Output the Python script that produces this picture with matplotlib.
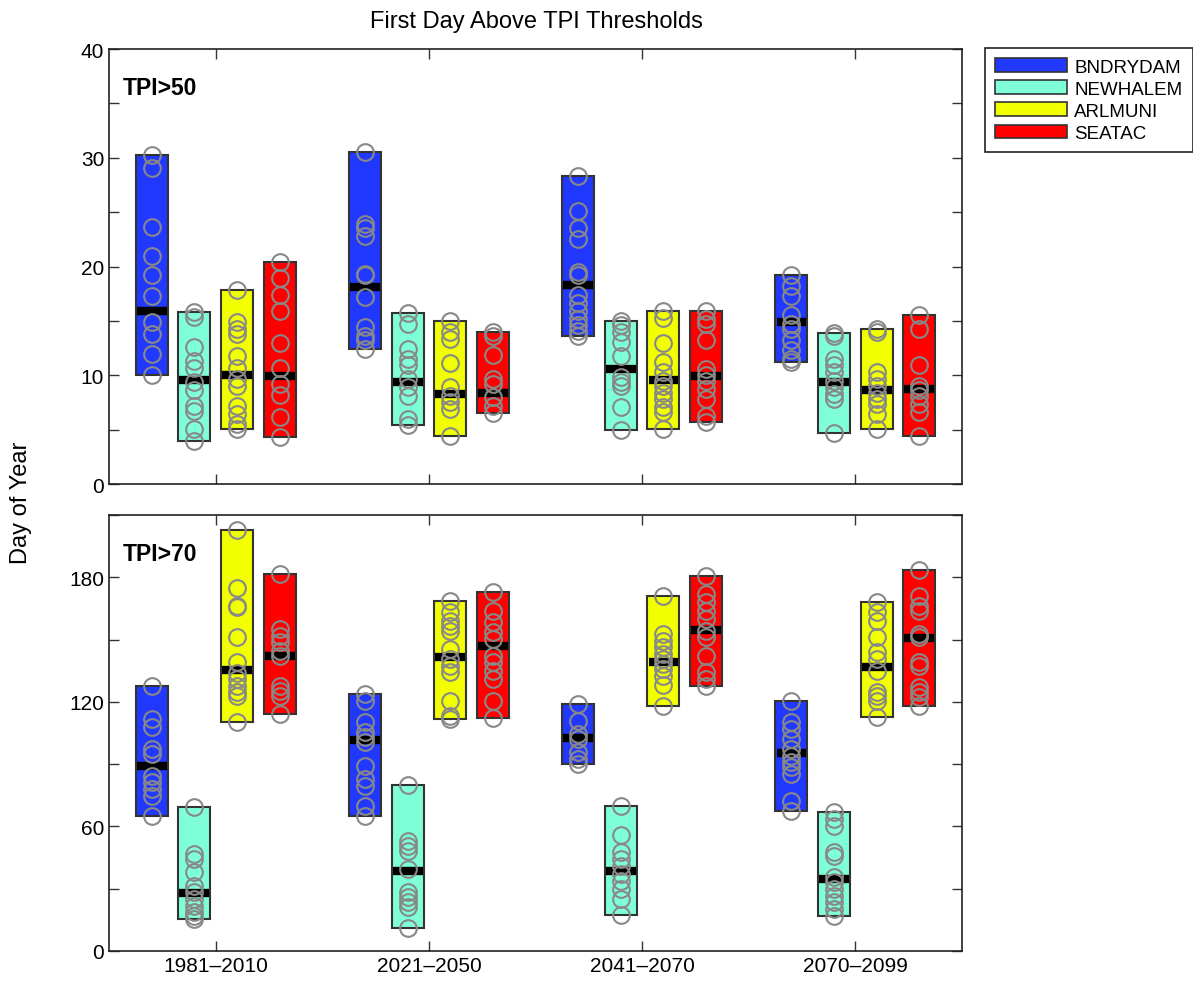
import matplotlib
matplotlib.use('Agg')
import matplotlib.pyplot as plt
from matplotlib.patches import Patch
import numpy as np

plt.rcParams['font.family'] = ['Liberation Sans', 'DejaVu Sans']

periods = ["1981\u20132010", "2021\u20132050", "2041\u20132070", "2070\u20132099"]
stations = ["BNDRYDAM", "NEWHALEM", "ARLMUNI", "SEATAC"]
colors = ["#2138FF", "#7FFFD8", "#F2FF00", "#FF0000"]

# TPI > 50: yearly first-day values, [period][station]
tpi50 = [
    [[30.3, 29.1, 23.6, 21.0, 19.2, 17.3, 14.9, 13.8, 12.0, 10.0],
     [15.8, 15.4, 12.6, 11.3, 10.7, 9.4, 8.6, 7.2, 6.7, 5.1, 4.0],
     [17.8, 14.9, 14.3, 13.8, 11.8, 10.7, 9.7, 9.0, 7.2, 6.4, 5.5, 5.1],
     [20.4, 18.9, 17.4, 15.9, 13.0, 10.7, 9.2, 8.2, 6.2, 4.3]],
    [[30.5, 23.9, 23.5, 22.8, 19.3, 19.2, 17.2, 14.4, 13.6, 13.2, 12.4],
     [15.7, 14.7, 12.4, 11.5, 10.9, 9.7, 8.9, 8.1, 6.0, 5.4],
     [15.0, 14.0, 13.3, 11.1, 8.9, 8.1, 7.5, 6.9, 4.4],
     [14.0, 13.6, 11.9, 9.7, 9.2, 8.0, 7.2, 6.5]],
    [[28.3, 25.1, 23.5, 22.5, 19.5, 19.2, 17.4, 16.6, 15.9, 15.2, 14.6, 14.1, 13.6],
     [15.0, 14.6, 14.0, 13.1, 11.8, 9.8, 9.4, 9.0, 7.1, 5.0],
     [15.9, 15.3, 13.0, 11.2, 10.3, 9.5, 9.0, 8.4, 7.8, 7.1, 6.6, 5.1],
     [15.9, 15.2, 14.7, 13.2, 10.6, 10.0, 9.5, 8.7, 7.8, 6.3, 5.7]],
    [[19.2, 18.2, 17.3, 15.5, 14.7, 14.3, 13.2, 12.3, 11.5, 11.2],
     [13.9, 13.6, 11.5, 10.9, 10.3, 9.5, 8.9, 8.3, 7.8, 4.7],
     [14.3, 14.0, 10.3, 9.7, 9.0, 8.4, 7.8, 7.4, 6.4, 5.1],
     [15.5, 14.3, 10.9, 9.0, 8.6, 8.1, 7.4, 6.6, 4.4]],
]
med50 = [[15.9, 9.6, 10.0, 9.9],
         [18.1, 9.4, 8.3, 8.4],
         [18.3, 10.6, 9.6, 9.9],
         [14.9, 9.4, 8.6, 8.7]]

# TPI > 70
tpi70 = [
    [[127.8, 111.8, 107.8, 97.3, 94.9, 84.5, 81.3, 78.0, 74.8, 65.2],
     [69.2, 46.7, 44.3, 37.9, 31.5, 28.3, 25.0, 21.8, 18.6, 16.8, 15.4],
     [202.9, 174.7, 166.3, 165.5, 151.1, 139.1, 133.9, 131.0, 127.8, 124.6, 123.0, 110.1],
     [181.6, 155.1, 151.9, 148.7, 144.6, 142.2, 127.8, 125.4, 123.0, 114.2]],
    [[123.8, 120.6, 110.1, 105.3, 102.9, 100.5, 89.3, 82.8, 79.6, 70.0, 65.2],
     [80.0, 53.1, 50.7, 48.3, 39.5, 28.3, 25.9, 23.5, 21.0, 10.9],
     [168.7, 163.1, 159.1, 156.7, 154.3, 145.5, 140.6, 137.4, 134.2, 120.6, 113.3, 111.7],
     [172.8, 163.9, 158.3, 153.5, 150.3, 142.2, 139.1, 135.0, 131.0, 120.6, 112.2]],
    [[119.0, 110.9, 104.5, 102.1, 95.7, 92.5, 90.1],
     [69.7, 55.9, 47.5, 44.3, 41.1, 37.1, 33.9, 29.9, 25.0, 17.3],
     [170.8, 152.7, 149.5, 146.3, 143.0, 140.6, 138.2, 135.8, 132.6, 128.1, 118.2],
     [180.5, 172.0, 168.0, 163.9, 159.9, 154.3, 151.1, 142.2, 134.2, 131.0, 127.5]],
    [[120.6, 110.1, 106.9, 102.1, 97.3, 94.1, 90.9, 88.5, 85.3, 72.4, 67.6],
     [66.8, 63.6, 60.4, 47.5, 45.9, 35.5, 33.1, 29.9, 26.6, 23.5, 20.2, 17.0],
     [168.0, 163.1, 159.1, 151.1, 143.9, 140.6, 135.0, 124.6, 123.0, 120.6, 112.6],
     [183.7, 171.1, 166.3, 163.9, 152.7, 151.1, 139.1, 137.4, 127.0, 124.6, 122.2, 117.9]],
]
med70 = [[89.3, 27.9, 135.5, 142.2],
         [101.6, 38.7, 141.4, 147.1],
         [102.4, 38.7, 139.0, 154.6],
         [95.4, 34.7, 136.6, 150.6]]

offsets = [-0.3, -0.1, 0.1, 0.3]
width = 0.15


def draw_panel(ax, data, meds, label, ymax, ystep):
    for p in range(len(periods)):
        for s in range(len(stations)):
            vals = np.array(data[p][s])
            xc = p + 1 + offsets[s]
            lo, hi = vals.min(), vals.max()
            ax.bar(xc, hi - lo, bottom=lo, width=width, color=colors[s],
                   edgecolor="#333333", linewidth=1.5, zorder=2)
            ax.plot([xc - width / 2 + 0.005, xc + width / 2 - 0.005],
                    [meds[p][s]] * 2, color="black", linewidth=6,
                    solid_capstyle="butt", zorder=3)
            ax.plot(np.full(len(vals), xc), vals, "o", mfc="none",
                    mec="#888888", mew=1.5, ms=12, zorder=4)
    ax.set_xlim(0.5, 4.5)
    ax.set_ylim(0, ymax)
    ticks = np.arange(0, ymax + 0.1, ystep / 2)
    ax.set_yticks(ticks)
    ax.set_yticklabels([str(int(v)) if i % 2 == 0 else ""
                        for i, v in enumerate(ticks)])
    ax.set_xticks([1, 2, 3, 4])
    ax.tick_params(direction="in", top=True, right=True, length=7,
                   width=1, labelsize=15, color="#333333")
    for sp in ax.spines.values():
        sp.set_linewidth(1.2)
        sp.set_color("#222222")
    ax.text(0.0164, 0.912, label, transform=ax.transAxes, fontsize=16.5,
            fontweight="bold", va="center")


fig = plt.figure(figsize=(11.93, 9.87), dpi=100)
ax1 = fig.add_axes([0.0914, 0.5086, 0.715, 0.4407])
ax2 = fig.add_axes([0.0914, 0.0355, 0.715, 0.4417])

draw_panel(ax1, tpi50, med50, "TPI>50", 40, 10)
ax1.set_xticklabels([])
draw_panel(ax2, tpi70, med70, "TPI>70", 210, 60)
ax2.set_yticks(np.arange(0, 211, 30))
ax2.set_yticklabels(["0", "", "60", "", "120", "", "180", ""])
ax2.set_xticklabels(periods)

fig.text(0.450, 0.978, "First Day Above TPI Thresholds", ha="center",
         va="center", fontsize=17)
fig.text(0.018, 0.491, "Day of Year", rotation=90, ha="center",
         va="center", fontsize=17)

handles = [Patch(facecolor=c, edgecolor="#333333", linewidth=1.2)
           for c in colors]
leg = fig.legend(handles, stations, loc="upper left",
                 bbox_to_anchor=(0.8257, 0.9504), fontsize=13.5,
                 handlelength=3.8, handleheight=0.75, handletextpad=0.4,
                 labelspacing=0.25, borderpad=0.55, borderaxespad=0,
                 fancybox=False, framealpha=1, edgecolor="#222222")
leg.get_frame().set_linewidth(1.2)

fig.savefig("out.png", dpi=100)
